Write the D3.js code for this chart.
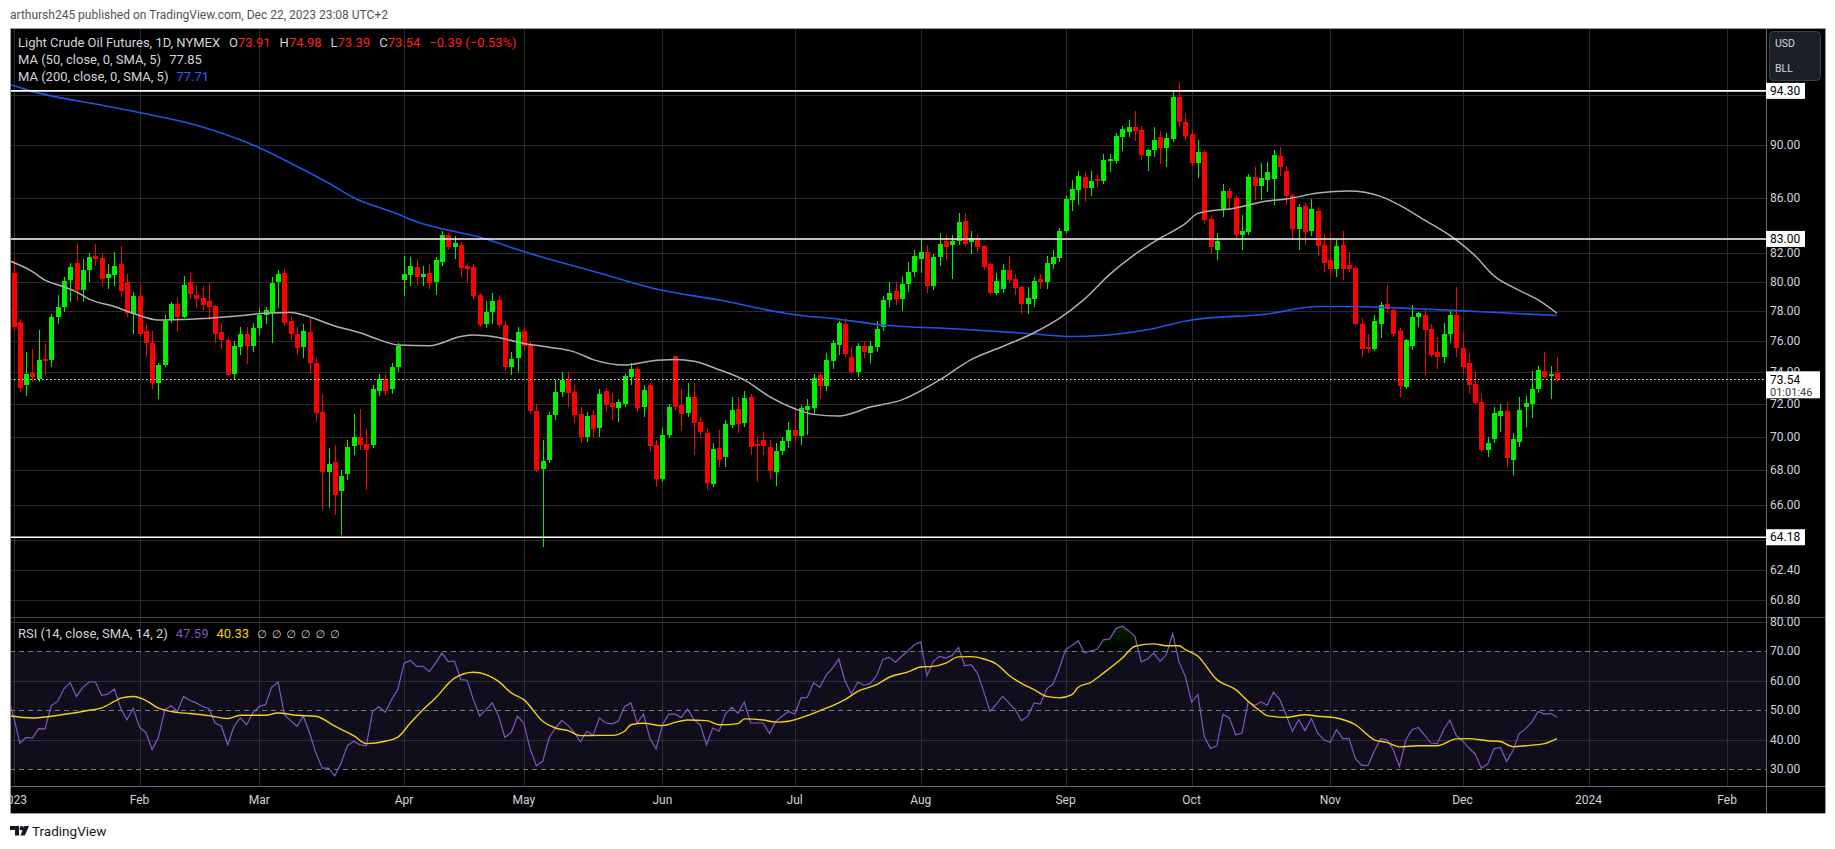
<!DOCTYPE html>
<html><head><meta charset="utf-8">
<script src="https://cdn.jsdelivr.net/npm/d3@7"></script>
<style>
html,body{margin:0;padding:0;background:#fff;overflow:hidden;}
svg{display:block;font-family:Roboto,"Noto Sans",sans-serif;}
</style></head><body>
<svg id="chart" width="1835" height="849"></svg>
<script>
// ---------------- DATA ----------------
const opens = [
80.57,77.25,73.20,73.95,73.55,74.85,74.75,77.60,78.30,80.10,
81.30,79.40,80.80,81.80,81.65,80.25,80.45,81.25,80.00,77.80,
79.00,76.70,75.90,73.30,74.45,77.40,78.50,77.60,80.00,79.10,
78.85,78.70,78.35,76.60,76.10,73.85,75.60,76.45,75.70,76.85,
77.70,77.85,80.00,80.60,77.35,76.50,75.60,76.60,74.60,71.50,
67.90,68.50,66.80,67.80,69.45,70.00,69.55,69.50,72.80,73.55,
72.90,74.30,80.10,80.45,81.05,80.35,80.60,79.95,81.40,83.25,
82.40,82.55,81.10,81.00,79.05,77.10,77.95,78.75,77.05,74.30,
74.90,76.65,75.75,71.55,68.05,68.60,71.30,72.74,73.56,72.74,
71.37,69.97,71.30,70.50,72.80,72.05,71.75,72.00,73.70,74.20,
71.80,73.18,69.50,67.50,70.10,75.03,71.93,71.43,72.43,70.88,
70.20,67.20,69.30,68.80,70.70,71.68,70.82,72.43,69.55,69.79,
69.40,67.90,69.13,69.73,70.40,70.03,71.62,71.77,73.82,73.12,
74.72,75.75,77.10,74.97,74.00,75.70,75.25,75.60,76.95,78.75,
79.35,78.80,79.85,80.65,81.60,82.10,79.70,81.70,82.85,82.55,
82.85,84.30,82.80,83.05,82.50,81.25,79.20,79.50,80.80,80.20,
79.60,78.45,78.80,80.15,79.95,81.25,81.65,83.60,85.85,86.60,
87.55,86.75,87.40,87.25,88.75,88.75,90.65,91.00,91.40,91.20,
89.15,89.60,90.60,89.80,90.50,93.80,91.80,90.85,88.65,89.45,
84.45,82.20,85.20,86.50,86.00,83.25,83.50,87.55,86.85,87.30,
87.40,89.15,88.00,86.20,83.70,85.40,83.55,85.00,82.55,81.50,
80.85,82.55,81.15,80.95,77.15,75.60,75.50,77.10,78.50,78.10,
76.70,73.05,75.70,77.60,77.75,76.80,75.30,74.95,76.50,77.75,
75.55,74.60,73.25,72.10,69.20,69.85,71.25,71.55,68.60,69.70,
71.80,72.00,72.90,74.05,73.78,73.91];
const highs = [
81.50,77.45,75.30,75.50,76.74,75.80,77.80,79.10,80.30,81.30,
82.65,81.60,82.00,82.65,82.00,81.20,82.10,82.50,80.50,79.30,
79.75,77.10,76.70,74.60,77.70,78.60,78.90,80.40,80.65,79.70,
79.70,79.90,78.40,77.20,76.20,76.00,76.90,76.90,77.20,78.20,
78.30,80.30,80.80,80.90,77.60,76.90,77.10,77.50,74.90,72.60,
69.30,69.50,68.00,69.80,71.35,71.70,70.45,73.20,73.90,73.85,
74.60,75.90,81.80,81.75,81.60,81.10,81.20,81.75,83.55,83.45,
83.20,82.80,81.30,81.20,79.20,78.70,79.20,79.10,77.30,75.30,
76.90,76.90,76.00,72.00,69.80,71.50,73.50,74.00,74.00,73.20,
71.80,71.50,71.60,72.90,73.00,72.65,72.30,73.90,74.60,74.40,
73.20,73.30,69.80,70.50,72.00,75.06,72.90,73.30,73.30,71.20,
70.50,69.60,70.40,71.00,72.40,72.40,72.80,72.60,70.00,70.30,
69.80,69.60,70.00,70.90,71.80,71.90,72.30,73.90,74.00,75.20,
76.10,77.30,77.50,75.60,75.90,76.00,76.00,77.30,79.00,79.95,
80.00,80.30,81.40,82.20,82.90,82.60,81.90,83.40,83.30,83.30,
84.90,84.85,83.60,83.30,82.60,81.40,80.60,81.20,81.80,80.50,
79.70,79.60,80.30,80.50,81.80,82.20,83.80,86.10,87.30,88.00,
87.90,88.00,87.80,89.30,89.30,90.90,91.50,92.00,92.70,91.50,
89.70,91.40,91.10,90.90,94.30,95.03,92.40,91.20,90.40,89.60,
84.70,83.40,87.00,86.70,86.10,84.70,87.75,88.30,88.60,88.70,
89.60,89.85,88.35,86.30,85.55,85.60,85.90,85.30,83.30,83.40,
82.90,83.60,82.10,81.10,77.50,76.50,77.70,78.60,79.75,78.30,
76.85,76.15,78.40,77.95,78.05,77.10,76.30,77.20,78.10,79.60,
76.60,75.20,74.10,72.60,70.00,71.80,72.00,72.10,70.20,72.40,
72.50,74.10,74.40,75.30,74.40,74.98];
const lows = [
76.60,72.74,72.46,73.35,73.40,73.80,74.30,77.10,77.90,78.60,
78.70,78.60,80.00,81.10,79.70,79.50,79.70,78.95,77.60,76.50,
76.30,75.00,72.90,72.30,74.30,77.20,76.60,77.50,78.80,78.20,
78.00,77.40,75.90,75.50,73.75,73.50,75.10,74.50,75.30,76.40,
77.10,75.90,78.20,77.00,76.10,75.10,74.90,73.90,70.90,65.70,
65.80,65.40,64.30,67.40,68.90,69.20,66.85,69.30,72.50,72.55,
72.60,74.00,79.00,79.70,79.80,79.70,79.50,79.10,81.10,82.20,
81.60,80.30,80.00,78.80,76.90,76.85,77.10,76.90,74.10,73.80,
74.00,75.40,71.40,67.90,63.64,68.40,71.00,72.40,71.80,70.80,
69.60,69.70,70.00,70.00,71.50,71.00,70.90,71.80,73.20,71.50,
71.20,69.10,67.00,67.30,69.90,71.60,70.40,71.20,68.90,69.90,
66.85,67.00,68.20,68.20,70.50,70.20,70.60,68.90,67.30,68.90,
67.50,67.10,68.90,69.30,69.60,69.50,70.10,71.30,72.30,72.80,
74.20,75.10,75.00,73.90,73.70,74.90,74.60,75.30,76.70,78.30,
78.40,78.00,79.30,80.30,80.60,79.20,79.40,81.10,81.50,80.20,
82.60,82.50,81.90,82.00,80.80,79.10,79.10,79.20,79.90,79.10,
77.80,77.80,78.30,79.50,79.50,80.90,81.40,83.40,85.00,85.50,
85.70,86.10,86.70,87.00,87.90,88.50,89.50,90.60,90.30,88.85,
88.00,89.10,88.50,88.30,90.20,91.40,90.30,88.40,87.50,84.10,
81.90,81.50,84.60,85.00,82.90,82.20,83.30,85.80,85.80,86.40,
85.50,87.60,85.50,82.90,82.20,82.60,83.20,81.80,80.70,80.30,
80.30,80.10,80.70,77.05,74.95,75.20,75.35,76.20,77.85,76.30,
72.40,72.90,75.40,76.90,73.80,75.00,74.20,74.60,75.90,75.00,
73.90,72.60,72.00,69.10,68.80,69.60,70.30,68.20,67.70,69.40,
70.60,71.10,72.70,73.60,72.30,73.39];
const closes = [
76.93,73.00,73.85,73.70,74.80,74.70,77.60,78.30,80.05,81.00,
79.45,80.80,81.70,81.60,80.20,80.50,81.10,79.35,77.85,79.00,
76.50,75.90,73.30,74.45,77.30,78.50,77.60,79.80,79.15,78.80,
78.40,78.25,76.50,76.10,73.80,75.65,76.45,75.70,76.85,77.70,
78.10,79.90,80.50,77.20,76.45,75.55,76.70,74.60,71.45,67.90,
68.35,66.55,67.65,69.40,69.95,69.50,69.20,72.90,73.55,72.80,
74.35,75.70,80.50,81.10,80.35,80.50,79.90,81.50,83.30,82.40,
82.70,80.95,80.85,79.00,77.05,77.90,78.70,77.05,74.30,74.85,
76.60,75.70,71.55,68.00,68.55,71.30,72.74,73.50,72.70,71.30,
69.97,71.25,70.46,72.60,71.93,71.80,72.10,73.75,74.20,71.77,
72.86,69.45,67.50,70.10,71.80,71.80,71.37,72.43,70.82,70.28,
67.24,69.25,68.60,70.76,71.62,70.76,72.36,69.40,69.45,69.45,
67.95,69.13,69.73,70.40,70.03,71.77,71.84,73.60,73.12,74.78,
75.85,77.20,75.16,74.00,75.65,75.30,75.65,76.80,78.74,79.25,
78.80,79.85,80.65,81.80,82.10,79.70,81.70,82.65,82.45,82.85,
84.20,82.65,83.05,82.45,81.05,79.20,80.05,80.80,80.10,79.55,
78.45,78.90,80.05,79.95,81.30,81.70,83.60,85.90,86.65,87.60,
86.75,87.25,87.25,88.85,88.90,90.70,91.25,91.40,91.10,89.20,
89.60,90.40,89.80,90.55,93.80,91.80,90.70,88.65,89.45,84.35,
82.40,82.85,86.50,86.00,83.30,83.55,87.55,86.85,87.50,87.90,
89.20,88.30,86.10,83.70,85.30,83.50,85.15,82.50,81.30,80.85,
82.50,80.85,80.90,77.10,75.50,75.50,77.30,78.40,78.15,76.50,
73.10,76.07,77.60,77.85,76.75,75.10,74.95,76.50,77.75,75.55,
74.30,73.20,72.05,69.20,69.60,71.45,71.55,68.70,69.85,71.60,
72.05,72.90,74.15,73.70,73.90,73.54];

// moving averages (sampled along the drawn curves)
const ma50Bars   = [-1,3,5,8,10,12,16,19,23,28,35,40,44,47,51,55,58,61,66,71,73,76,81,85,89,92,97,101,105,108,112,116,120,124,127,131,136,141,147,152,157,162,166,170,174,178,182,186,188,194,199,202,207,212,217,220,224,228,232,235,239,242,245];
const ma50Values = [81.5,80.7,80.1,79.65,79.3,78.8,78.3,77.85,77.4,77.45,77.65,77.85,77.9,77.6,77.0,76.55,76.1,75.75,75.7,76.3,76.4,76.3,75.85,75.6,75.3,74.8,74.45,74.7,74.8,74.7,74.15,73.5,72.45,71.7,71.35,71.25,71.8,72.25,73.5,74.8,75.65,76.55,77.5,78.8,80.5,81.9,83.05,84.1,84.85,85.25,85.75,85.9,86.35,86.5,86.1,85.45,84.35,83.25,81.8,80.4,79.4,78.75,77.85];
const ma200Bars   = [-1,2,16,30,38,44,50,54,61,63,75,81,93,102,112,124,131,138,150,161,168,172,180,187,199,207,212,223,233,245];
const ma200Values = [94.9,94.4,92.95,91.4,90.0,88.6,87.1,86.0,84.8,84.4,83.0,82.1,80.6,79.5,78.74,77.75,77.45,77.06,76.8,76.5,76.3,76.35,76.75,77.4,77.8,78.3,78.3,78.15,77.95,77.7];

// RSI (first value belongs to bar -1, just left of the visible area)
const rsiFirstBar = -1;
const rsiValues = [55.0,47.9,38.8,40.7,40.5,43.7,43.6,51.5,52.9,57.2,
59.2,54.6,57.7,59.5,59.5,55.0,55.4,57.1,50.7,46.7,
50.5,44.2,42.4,36.6,40.7,49.9,51.5,49.5,54.6,53.2,
52.4,51.2,50.5,45.6,44.5,38.2,44.5,47.3,45.0,49.0,
51.2,51.8,57.8,59.5,48.4,46.4,44.5,47.9,42.2,35.4,
30.3,30.3,27.7,32.0,37.9,39.4,38.2,37.9,49.5,51.2,
49.2,53.5,56.9,65.9,66.8,64.8,64.8,63.0,65.9,69.3,
66.4,66.6,60.3,60.1,53.5,47.9,50.1,52.4,47.9,40.7,
42.4,47.9,45.6,36.8,31.1,32.6,40.5,43.9,46.4,44.8,
42.4,39.2,42.8,41.4,47.3,45.6,45.3,46.2,51.2,52.4,
45.6,48.6,40.5,36.8,45.0,48.6,48.6,47.5,50.3,46.7,
45.0,38.2,43.9,42.8,48.6,50.9,48.9,52.7,45.6,45.6,
45.6,42.0,46.2,47.9,49.5,48.6,54.1,54.3,59.2,57.7,
61.8,64.2,67.3,59.7,55.5,59.5,58.4,59.0,61.6,67.1,
67.9,66.2,68.2,70.1,72.1,73.1,61.6,66.5,68.2,67.6,
68.5,71.2,65.0,65.4,62.5,56.3,49.5,52.0,54.6,52.4,
50.1,46.4,47.9,52.4,52.0,57.2,58.8,64.0,70.5,71.9,
73.5,69.3,70.1,70.6,73.8,74.1,77.6,78.4,76.9,75.0,
66.3,67.3,69.3,66.5,68.8,75.9,66.3,61.4,52.7,55.2,
41.1,36.9,37.9,48.6,47.3,41.6,42.2,52.9,51.5,52.7,
51.6,56.1,53.5,48.4,42.8,46.7,43.0,47.1,42.2,39.9,
39.0,43.3,40.3,40.3,33.5,31.2,31.2,36.0,40.3,39.9,
36.6,30.9,39.9,43.3,44.1,41.4,38.8,38.6,43.3,46.6,
41.4,39.6,37.1,35.1,30.3,31.7,36.9,37.3,32.6,36.2,
42.0,43.6,45.9,49.5,48.6,48.8,47.6];
const rsiMaBars   = [-1,3,6,9,12,14,16,17,19,21,23,26,28,31,34,36,40,42,45,48,51,54,56,59,61,63,65,67,70,73,75,77,79,81,84,86,88,90,93,95,97,98,100,103,105,107,110,112,115,116,119,121,123,126,128,130,132,134,137,139,142,144,146,148,150,152,154,156,158,160,162,164,166,168,169,171,173,176,178,181,183,185,186,188,191,194,196,198,199,202,205,207,210,213,216,218,220,223,226,229,231,234,236,238,240,243,245];
const rsiMaValues = [48.2,47.3,47.9,48.8,49.9,50.7,52.9,54.0,54.6,53.3,50.6,49.2,48.8,48.1,47.1,48.2,48.2,49.0,48.2,47.9,44.5,41.3,38.6,39.4,40.8,45.6,50.1,54.1,60.8,62.8,62.0,59.7,55.8,53.5,46.2,43.9,43.0,41.3,41.4,41.4,42.8,45.0,45.5,44.7,45.8,46.6,46.4,45.0,45.4,47.0,46.6,45.9,46.2,48.1,49.8,51.5,53.5,56.3,58.6,61.1,62.9,64.6,64.8,65.9,68.0,68.1,67.3,65.6,61.8,59.0,56.9,54.6,54.1,55.2,57.7,59.4,62.5,67.6,71.6,72.4,71.8,71.8,70.5,68.2,60.3,56.9,52.9,49.5,48.1,47.5,48.4,47.9,47.3,45.0,39.9,39.0,37.5,37.9,37.9,40.2,40.3,39.6,39.3,37.6,37.9,38.6,40.3];

// axis / label values
const priceGridTicks  = [94,90,86,82,80,78,76,74,72,70,68,66,64,62.4,60.8];
const priceAxisLabels = [90,86,82,80,78,76,74,72,70,68,66,62.4,60.8];
const levelLines = [94.30, 83.00, 64.18];
const lastPrice = 73.54;
const countdown = "01:01:46";
const rsiTicks = [80,70,60,50,40,30];
const rsiDashed = [70,50,30];
const monthLabels = ["2023","Feb","Mar","Apr","May","Jun","Jul","Aug","Sep","Oct","Nov","Dec","2024","Feb"];
const monthBars   = [0,20,39,62,81,103,124,144,167,187,209,230,250,272];

(function draw(){
// ---------------- LAYOUT ----------------
const plotL = 10, plotR = 1766, axisR = 1825;
const paneTop = 28, priceB = 617, rsiB = 786, timeB = 813;
const C = {
  bg:"#000000", grid:"#2a2a2a", text:"#d1d4dc", up:"#00f000", down:"#ff0000",
  ma50:"#aeb0b6", ma200:"#2154e6", rsi:"#7e57c2", rsiMa:"#f5d018", band:"#110e1b"
};

const svg = d3.select("#chart");
const x  = d3.scaleLinear().domain([0,245]).range([13.5,1557]);
const y  = d3.scaleLog().domain([60.8,90]).range([600,145]);
const yr = d3.scaleLinear().domain([30,70]).range([769,651]);

const defs = svg.append("defs");
defs.append("clipPath").attr("id","clipPrice").append("rect")
  .attr("x",plotL).attr("y",paneTop).attr("width",plotR-plotL).attr("height",priceB-paneTop);
defs.append("clipPath").attr("id","clipRsi").append("rect")
  .attr("x",plotL).attr("y",priceB).attr("width",plotR-plotL).attr("height",rsiB-priceB);
defs.append("clipPath").attr("id","clipOB").append("rect")
  .attr("x",plotL).attr("y",priceB).attr("width",plotR-plotL).attr("height",yr(70)-priceB);
defs.append("clipPath").attr("id","clipOS").append("rect")
  .attr("x",plotL).attr("y",yr(30)).attr("width",plotR-plotL).attr("height",rsiB-yr(30));
defs.append("clipPath").attr("id","clipTime").append("rect")
  .attr("x",plotL).attr("y",rsiB).attr("width",plotR-plotL).attr("height",timeB-rsiB);
const gOB = defs.append("linearGradient").attr("id","gradOB").attr("gradientUnits","userSpaceOnUse")
  .attr("x1",0).attr("x2",0).attr("y1",yr(70)).attr("y2",yr(80));
gOB.append("stop").attr("offset","0").attr("stop-color","#00ff00").attr("stop-opacity",0);
gOB.append("stop").attr("offset","1").attr("stop-color","#00ff00").attr("stop-opacity",0.16);
const gOS = defs.append("linearGradient").attr("id","gradOS").attr("gradientUnits","userSpaceOnUse")
  .attr("x1",0).attr("x2",0).attr("y1",yr(30)).attr("y2",yr(20));
gOS.append("stop").attr("offset","0").attr("stop-color","#ff0000").attr("stop-opacity",0);
gOS.append("stop").attr("offset","1").attr("stop-color","#ff0000").attr("stop-opacity",0.16);

// header
svg.append("text").attr("x",10).attr("y",19).attr("fill","#50535e").attr("font-size",12)
  .text("arthursh245 published on TradingView.com, Dec 22, 2023 23:08 UTC+2");

// chart background
svg.append("rect").attr("x",plotL).attr("y",paneTop).attr("width",axisR-plotL).attr("height",timeB-paneTop).attr("fill",C.bg);

// vertical grid
svg.append("g").selectAll("line").data(monthBars).join("line")
  .attr("x1",d=>Math.round(x(d))+0.5).attr("x2",d=>Math.round(x(d))+0.5)
  .attr("y1",paneTop).attr("y2",priceB).attr("stroke",C.grid)
  .attr("clip-path","url(#clipPrice)");
svg.append("g").selectAll("line").data(monthBars).join("line")
  .attr("x1",d=>Math.round(x(d))+0.5).attr("x2",d=>Math.round(x(d))+0.5)
  .attr("y1",priceB).attr("y2",rsiB).attr("stroke",C.grid)
  .attr("clip-path","url(#clipRsi)");

// horizontal price grid
svg.append("g").selectAll("line").data(priceGridTicks).join("line")
  .attr("x1",plotL).attr("x2",plotR)
  .attr("y1",d=>Math.round(y(d))+0.5).attr("y2",d=>Math.round(y(d))+0.5)
  .attr("stroke",C.grid);

// RSI band and grid
svg.append("rect").attr("x",plotL).attr("y",yr(70)).attr("width",plotR-plotL).attr("height",yr(30)-yr(70)).attr("fill",C.band);
svg.append("g").selectAll("line").data(rsiTicks.filter(t=>!rsiDashed.includes(t))).join("line")
  .attr("x1",plotL).attr("x2",plotR)
  .attr("y1",d=>Math.round(yr(d))+0.5).attr("y2",d=>Math.round(yr(d))+0.5)
  .attr("stroke","#2e2e36");
svg.append("g").selectAll("line").data(monthBars).join("line")
  .attr("x1",d=>Math.round(x(d))+0.5).attr("x2",d=>Math.round(x(d))+0.5)
  .attr("y1",yr(70)).attr("y2",yr(30)).attr("stroke","#2e2e36")
  .attr("clip-path","url(#clipRsi)");
svg.append("g").selectAll("line").data(rsiDashed).join("line")
  .attr("x1",plotL).attr("x2",plotR)
  .attr("y1",d=>Math.round(yr(d))+0.5).attr("y2",d=>Math.round(yr(d))+0.5)
  .attr("stroke","#787b86").attr("stroke-dasharray","5,4");

// candles
const bars = d3.range(opens.length);
const gC = svg.append("g").attr("clip-path","url(#clipPrice)").attr("shape-rendering","crispEdges");
gC.selectAll("line").data(bars).join("line")
  .attr("x1",i=>Math.round(x(i))+0.5).attr("x2",i=>Math.round(x(i))+0.5)
  .attr("y1",i=>y(highs[i])).attr("y2",i=>y(lows[i]))
  .attr("stroke",i=>closes[i]>=opens[i]?C.up:C.down).attr("stroke-width",1);
gC.selectAll("rect").data(bars).join("rect")
  .attr("x",i=>Math.round(x(i))-2).attr("width",5)
  .attr("y",i=>Math.min(y(opens[i]),y(closes[i])))
  .attr("height",i=>Math.max(1,Math.abs(y(opens[i])-y(closes[i]))))
  .attr("fill",i=>closes[i]>=opens[i]?C.up:C.down);

// moving averages
const maLine = d3.line().curve(d3.curveMonotoneX).x(d=>x(d[0])).y(d=>y(d[1]));
svg.append("path").attr("clip-path","url(#clipPrice)")
  .attr("d",maLine(d3.zip(ma200Bars,ma200Values))).attr("fill","none").attr("stroke",C.ma200).attr("stroke-width",1.6);
svg.append("path").attr("clip-path","url(#clipPrice)")
  .attr("d",maLine(d3.zip(ma50Bars,ma50Values))).attr("fill","none").attr("stroke",C.ma50).attr("stroke-width",1.5);

// level lines
svg.append("g").selectAll("line").data(levelLines).join("line")
  .attr("x1",plotL).attr("x2",plotR).attr("y1",d=>y(d)).attr("y2",d=>y(d))
  .attr("stroke","#ffffff").attr("stroke-width",1.6);
svg.append("line").attr("x1",plotL).attr("x2",plotR)
  .attr("y1",Math.round(y(lastPrice))+0.5).attr("y2",Math.round(y(lastPrice))+0.5)
  .attr("stroke","#ffffff").attr("stroke-width",1).attr("stroke-dasharray","1.5,2.5");

// RSI
const rsiPts = rsiValues.map((v,k)=>[k+rsiFirstBar,v]);
const rsiArea = d3.area().x(d=>x(d[0])).y0(yr(70)).y1(d=>yr(d[1]));
svg.append("path").attr("clip-path","url(#clipOB)").attr("d",rsiArea(rsiPts)).attr("fill","url(#gradOB)");
const rsiArea2 = d3.area().x(d=>x(d[0])).y0(yr(30)).y1(d=>yr(d[1]));
svg.append("path").attr("clip-path","url(#clipOS)").attr("d",rsiArea2(rsiPts)).attr("fill","url(#gradOS)");
svg.append("path").attr("clip-path","url(#clipRsi)")
  .attr("d",d3.line().x(d=>x(d[0])).y(d=>yr(d[1]))(rsiPts))
  .attr("fill","none").attr("stroke",C.rsi).attr("stroke-width",1.2);
svg.append("path").attr("clip-path","url(#clipRsi)")
  .attr("d",d3.line().curve(d3.curveMonotoneX).x(d=>x(d[0])).y(d=>yr(d[1]))(d3.zip(rsiMaBars,rsiMaValues)))
  .attr("fill","none").attr("stroke",C.rsiMa).attr("stroke-width",1.4);

// pane separators & borders
svg.append("line").attr("x1",plotL).attr("x2",axisR).attr("y1",priceB+0.5).attr("y2",priceB+0.5).attr("stroke","#4a4a4a");
svg.append("line").attr("x1",plotL).attr("x2",axisR).attr("y1",rsiB+0.5).attr("y2",rsiB+0.5).attr("stroke","#6a6d78");
svg.append("line").attr("x1",plotL).attr("x2",axisR).attr("y1",timeB+0.5).attr("y2",timeB+0.5).attr("stroke","#9a9ca3");
svg.append("line").attr("x1",plotR+0.5).attr("x2",plotR+0.5).attr("y1",paneTop).attr("y2",timeB).attr("stroke","#6a6d78");
svg.append("line").attr("x1",axisR+0.5).attr("x2",axisR+0.5).attr("y1",paneTop).attr("y2",timeB).attr("stroke","#9a9ca3");
svg.append("line").attr("x1",plotL+0.5).attr("x2",plotL+0.5).attr("y1",paneTop).attr("y2",timeB).attr("stroke","#9a9ca3");
svg.append("line").attr("x1",plotL).attr("x2",axisR).attr("y1",paneTop+0.5).attr("y2",paneTop+0.5).attr("stroke","#9a9ca3");

// price axis labels
svg.append("g").selectAll("text").data(priceAxisLabels).join("text")
  .attr("x",1770).attr("y",d=>y(d)).attr("dy","0.35em").attr("fill",C.text).attr("font-size",12)
  .text(d=>d.toFixed(2));
svg.append("g").selectAll("text").data(rsiTicks).join("text")
  .attr("x",1770).attr("y",d=>yr(d)).attr("dy","0.35em").attr("fill",C.text).attr("font-size",12)
  .text(d=>d.toFixed(2));

// level boxes
const lb = svg.append("g").selectAll("g").data(levelLines).join("g");
lb.append("rect").attr("x",plotR).attr("y",d=>y(d)-8).attr("width",39).attr("height",16).attr("fill","#ffffff");
lb.append("text").attr("x",1770).attr("y",d=>y(d)).attr("dy","0.35em").attr("fill","#000").attr("font-size",12)
  .text(d=>d.toFixed(2));
const ly = y(lastPrice);
svg.append("rect").attr("x",plotR).attr("y",ly-8).attr("width",54).attr("height",27).attr("fill","#ffffff");
svg.append("text").attr("x",1770).attr("y",ly+0.5).attr("dy","0.35em").attr("fill","#000").attr("font-size",12).text(lastPrice.toFixed(2));
svg.append("text").attr("x",1770).attr("y",ly+12.5).attr("dy","0.35em").attr("fill","#3a3d47").attr("font-size",11).text(countdown);

// currency box
svg.append("rect").attr("x",1769.5).attr("y",31.5).attr("width",51).attr("height",49).attr("rx",4)
  .attr("fill","#1c1f27").attr("stroke","#3a3e4a");
svg.append("text").attr("x",1775).attr("y",47).attr("fill",C.text).attr("font-size",10.5).text("USD");
svg.append("text").attr("x",1775).attr("y",72).attr("fill",C.text).attr("font-size",10.5).text("BLL");

// time axis labels
svg.append("g").attr("clip-path","url(#clipTime)").selectAll("text").data(monthLabels).join("text")
  .attr("x",(d,i)=>x(monthBars[i])).attr("y",800).attr("dy","0.35em").attr("text-anchor","middle")
  .attr("fill",C.text).attr("font-size",12).text(d=>d);

// legends
const lg = svg.append("g").attr("font-size",13);
const t1 = lg.append("text").attr("x",18).attr("y",42).attr("dy","0.35em").attr("fill",C.text);
t1.append("tspan").text("Light Crude Oil Futures, 1D, NYMEX");
const last = opens.length-1;
const ohlc = [["O",opens[last]],["H",highs[last]],["L",lows[last]],["C",closes[last]]];
ohlc.forEach((p,k)=>{
  t1.append("tspan").attr("dx",k===0?9:9).text(p[0]);
  t1.append("tspan").attr("fill","#ff2020").text(p[1].toFixed(2));
});
t1.append("tspan").attr("dx",9).attr("fill","#ff2020").text("\u22120.39 (\u22120.53%)");
const t2 = lg.append("text").attr("x",18).attr("y",59).attr("dy","0.35em").attr("fill",C.text);
t2.append("tspan").text("MA (50, close, 0, SMA, 5)");
t2.append("tspan").attr("dx",8).text("77.85");
const t3 = lg.append("text").attr("x",18).attr("y",76).attr("dy","0.35em").attr("fill",C.text);
t3.append("tspan").text("MA (200, close, 0, SMA, 5)");
t3.append("tspan").attr("dx",8).attr("fill","#2962ff").text("77.71");
const t4 = lg.append("text").attr("x",18).attr("y",633).attr("dy","0.35em").attr("fill",C.text);
t4.append("tspan").text("RSI (14, close, SMA, 14, 2)");
t4.append("tspan").attr("dx",8).attr("fill",C.rsi).text("47.59");
t4.append("tspan").attr("dx",8).attr("fill",C.rsiMa).text("40.33");
t4.append("tspan").attr("dx",8).attr("font-family","DejaVu Sans").attr("font-size",11).attr("letter-spacing","5").text("\u2205\u2205\u2205\u2205\u2205\u2205");

// footer logo
const fl = svg.append("g").attr("fill","#131722");
fl.append("path").attr("d","M10,826 h9 v9.5 h-4 v-5.5 h-5 z");
fl.append("circle").attr("cx",21.8).attr("cy",828.3).attr("r",2.2);
fl.append("path").attr("d","M24.5,826 h4.5 l-4.2,9.5 h-4.5 z");
svg.append("text").attr("x",32).attr("y",831).attr("dy","0.35em").attr("fill","#131722").attr("font-size",13.5).text("TradingView");
})();
</script>
</body></html>
